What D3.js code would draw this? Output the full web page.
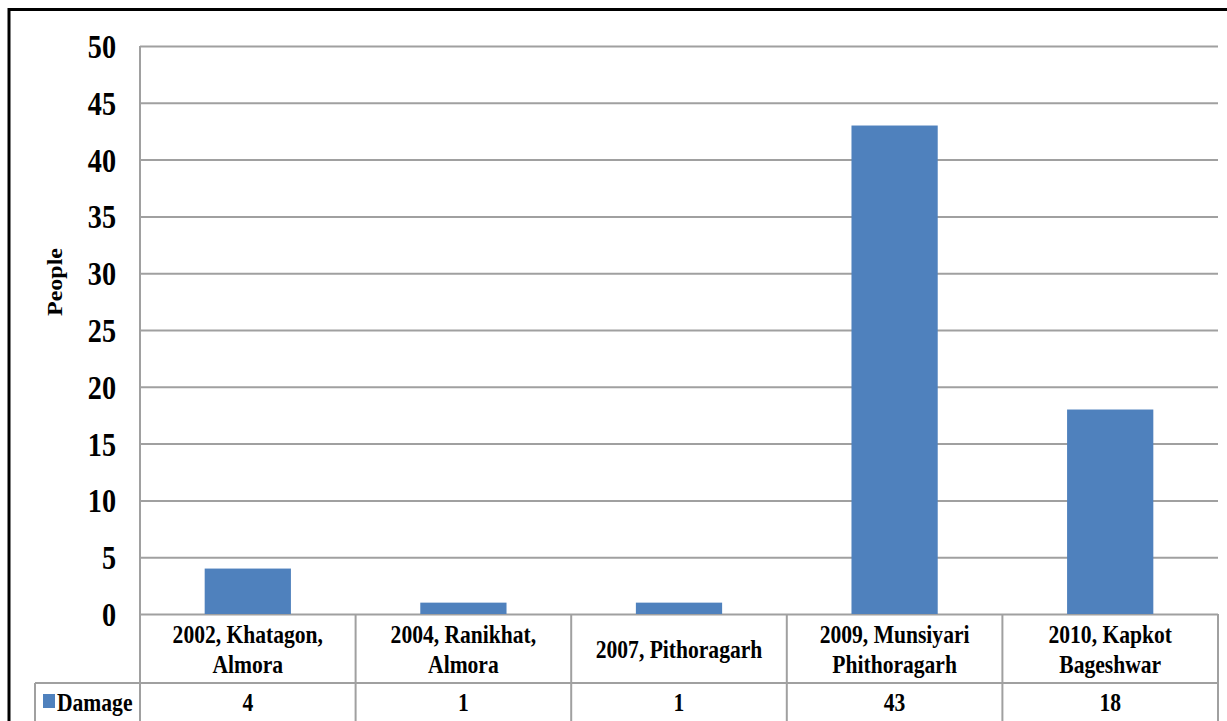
<!DOCTYPE html>
<html>
<head>
<meta charset="utf-8">
<script src="https://cdn.jsdelivr.net/npm/d3@7"></script>
<style>
  body { margin: 0; background: #fff; }
  text { font-family: "Liberation Serif", "Times New Roman", serif; font-weight: bold; fill: #000; }
</style>
</head>
<body>
<div id="container"></div>
<script>
// values
const categories = ["2002, Khatagon,\nAlmora", "2004, Ranikhat,\nAlmora", "2007, Pithoragarh", "2009, Munsiyari\nPhithoragarh", "2010, Kapkot\nBageshwar"]
const damage = [4, 1, 1, 43, 18]
const yTicks = [0, 5, 10, 15, 20, 25, 30, 35, 40, 45, 50]
const seriesName = "Damage"
const yTitle = "People"

// constants
const width = 1227,
  height = 721,
  plot = { left: 140, right: 1218, top: 46, bottom: 614 },
  tableRow = 683,
  barColor = "#4F81BD",
  lineColor = "#a0a0a0",
  squash = 0.83

const data = categories.map((c, i) => ({ cat: c, value: damage[i] }))

const svg = d3.select("#container")
  .append("svg")
  .attr("width", width)
  .attr("height", height)

// scales
const xScale = d3.scaleBand()
  .domain(categories)
  .range([plot.left, plot.right])
  .paddingInner(0.6)
  .paddingOuter(0.3)

const yScale = d3.scaleLinear()
  .domain([0, 50])
  .range([plot.bottom, plot.top])

// gridlines + tick labels
const yAxis = d3.axisLeft(yScale)
  .tickValues(yTicks)
  .tickSize(-(plot.right - plot.left))
  .tickFormat(d3.format("d"))

const yAxisGroup = svg.append("g")
  .attr("transform", `translate(${plot.left}, 0)`)
  .call(yAxis)

yAxisGroup.select(".domain").remove()
yAxisGroup.selectAll(".tick line")
  .attr("stroke", lineColor)
  .attr("stroke-width", 2)
yAxisGroup.selectAll(".tick text")
  .attr("x", 0)
  .attr("dy", "0.34em")
  .attr("font-size", 34)
  .attr("font-family", null)
  .attr("transform", `translate(-24, 0) scale(${squash}, 1)`)

// axis line (runs down through the table)
svg.append("line")
  .attr("x1", plot.left).attr("x2", plot.left)
  .attr("y1", plot.top).attr("y2", height + 5)
  .attr("stroke", lineColor)
  .attr("stroke-width", 2)

// y title
svg.append("text")
  .attr("transform", `translate(62, 282) rotate(-90) scale(1.2, 1)`)
  .attr("text-anchor", "middle")
  .attr("font-size", 20)
  .text(yTitle)

// bars
svg.selectAll(".bar")
  .data(data)
  .join("rect")
  .attr("class", "bar")
  .attr("x", d => xScale(d.cat))
  .attr("y", d => yScale(d.value))
  .attr("width", xScale.bandwidth())
  .attr("height", d => yScale(0) - yScale(d.value))
  .attr("fill", barColor)

// data table lines
const table = svg.append("g")
const step = xScale.step()
const bounds = d3.range(categories.length + 1).map(i => plot.left + i * step)

table.selectAll(".vline")
  .data(bounds.slice(1))
  .join("line")
  .attr("x1", d => d).attr("x2", d => d)
  .attr("y1", plot.bottom).attr("y2", height + 5)
  .attr("stroke", lineColor)
  .attr("stroke-width", 2)

table.append("line")
  .attr("x1", 35).attr("x2", plot.right)
  .attr("y1", tableRow).attr("y2", tableRow)
  .attr("stroke", lineColor)
  .attr("stroke-width", 2)

table.append("line")
  .attr("x1", 35).attr("x2", 35)
  .attr("y1", tableRow).attr("y2", height + 5)
  .attr("stroke", lineColor)
  .attr("stroke-width", 2)

// category labels
const catLabels = svg.selectAll(".catLabel")
  .data(data)
  .join("text")
  .attr("class", "catLabel")
  .attr("text-anchor", "middle")
  .attr("font-size", 26)
  .attr("transform", d => `translate(${xScale(d.cat) + xScale.bandwidth() / 2}, 0) scale(${squash}, 1)`)

catLabels.each(function(d) {
  const lines = d.cat.split("\n")
  const first = 658 - (lines.length - 1) * 15
  d3.select(this).selectAll("tspan")
    .data(lines)
    .join("tspan")
    .attr("x", 0)
    .attr("y", (l, i) => first + i * 30)
    .text(l => l)
})

// values row
svg.selectAll(".valLabel")
  .data(data)
  .join("text")
  .attr("class", "valLabel")
  .attr("text-anchor", "middle")
  .attr("font-size", 26)
  .attr("transform", d => `translate(${xScale(d.cat) + xScale.bandwidth() / 2}, 711) scale(${squash}, 1)`)
  .text(d => d.value)

// legend key
svg.append("rect")
  .attr("x", 43).attr("y", 694)
  .attr("width", 12).attr("height", 14)
  .attr("fill", barColor)

svg.append("text")
  .attr("font-size", 26)
  .attr("transform", `translate(57, 711) scale(${squash}, 1)`)
  .text(seriesName)

// outer frame
svg.append("rect")
  .attr("x", 9).attr("y", 9.5)
  .attr("width", width + 50).attr("height", height + 50)
  .attr("fill", "none")
  .attr("stroke", "#000")
  .attr("stroke-width", 3)
</script>
</body>
</html>
